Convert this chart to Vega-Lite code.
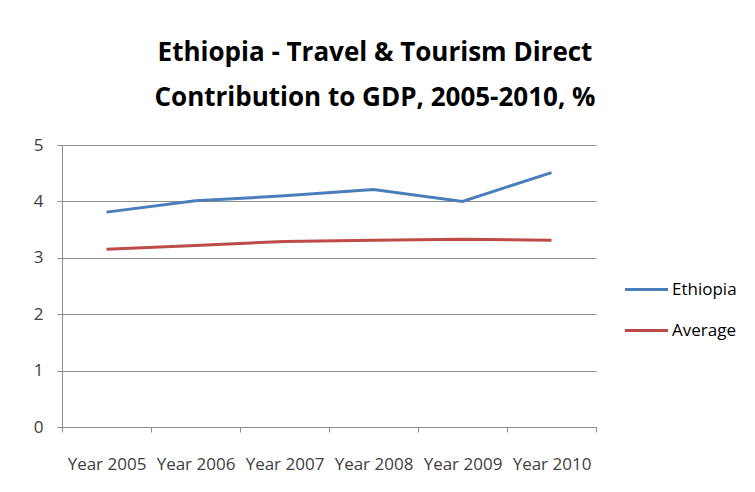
{
  "$schema": "https://vega.github.io/schema/vega-lite/v6.json",
  "width": 534,
  "height": 282,
  "autosize": {"type": "none"},
  "padding": {"left": 62, "top": 145, "right": 159, "bottom": 65},
  "background": "white",
  "title": {
    "text": ["Ethiopia - Travel & Tourism Direct", "Contribution to GDP, 2005-2010, %"],
    "font": "Open Sans",
    "fontSize": 26,
    "fontWeight": "bold",
    "color": "#000000",
    "anchor": "middle",
    "dx": 46,
    "offset": 25,
    "lineHeight": 45
  },
  "data": {
    "values": [
      {"year": "Year 2005", "series": "Ethiopia", "value": 3.81},
      {"year": "Year 2006", "series": "Ethiopia", "value": 4.01},
      {"year": "Year 2007", "series": "Ethiopia", "value": 4.1},
      {"year": "Year 2008", "series": "Ethiopia", "value": 4.21},
      {"year": "Year 2009", "series": "Ethiopia", "value": 4.0},
      {"year": "Year 2010", "series": "Ethiopia", "value": 4.51},
      {"year": "Year 2005", "series": "Average", "value": 3.15},
      {"year": "Year 2006", "series": "Average", "value": 3.22},
      {"year": "Year 2007", "series": "Average", "value": 3.29},
      {"year": "Year 2008", "series": "Average", "value": 3.31},
      {"year": "Year 2009", "series": "Average", "value": 3.33},
      {"year": "Year 2010", "series": "Average", "value": 3.31}
    ]
  },
  "mark": {"type": "line", "strokeWidth": 3},
  "encoding": {
    "x": {
      "field": "year",
      "type": "ordinal",
      "scale": {"type": "band", "paddingInner": 0, "paddingOuter": 0},
      "axis": {
        "title": null,
        "labelAngle": 0,
        "tickBand": "extent",
        "labelFont": "Open Sans",
        "labelFontSize": 17,
        "labelColor": "#404040",
        "labelPadding": 24,
        "domainColor": "#8c8c8c",
        "tickColor": "#8c8c8c",
        "tickSize": 5,
        "grid": false
      }
    },
    "y": {
      "field": "value",
      "type": "quantitative",
      "scale": {"domain": [0, 5]},
      "axis": {
        "title": null,
        "values": [0, 1, 2, 3, 4, 5],
        "labelFont": "Open Sans",
        "labelFontSize": 17,
        "labelColor": "#404040",
        "labelPadding": 14,
        "domainColor": "#8c8c8c",
        "tickColor": "#8c8c8c",
        "tickSize": 5,
        "gridColor": "#8c8c8c",
        "gridWidth": 1
      }
    },
    "color": {
      "field": "series",
      "type": "nominal",
      "scale": {"domain": ["Ethiopia", "Average"], "range": ["#4a7ebb", "#be4b48"]},
      "legend": {
        "title": null,
        "orient": "none",
        "legendX": 561,
        "legendY": 121,
        "symbolType": "stroke",
        "symbolSize": 1850,
        "symbolStrokeWidth": 3,
        "labelFont": "Open Sans",
        "labelFontSize": 17,
        "labelColor": "#000000",
        "rowPadding": 9,
        "labelOffset": 2
      }
    }
  },
  "config": {"view": {"stroke": null}}
}
